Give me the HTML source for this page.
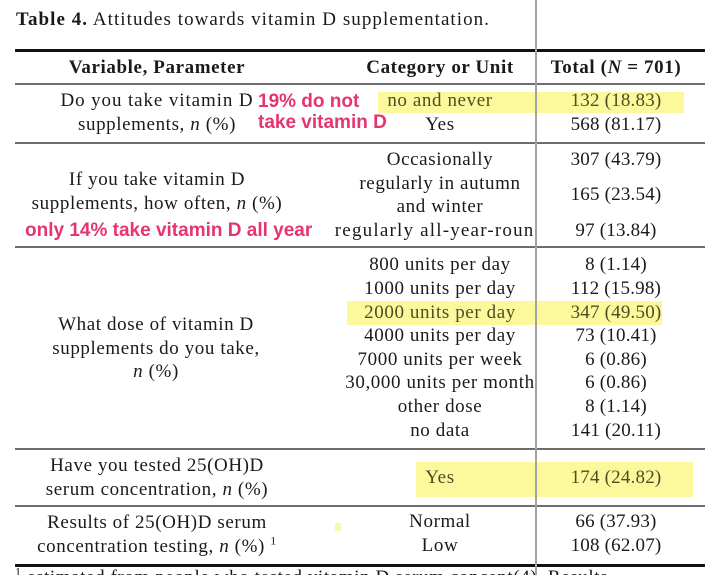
<!DOCTYPE html>
<html><head><meta charset="utf-8">
<style>
html,body{margin:0;padding:0;background:#fff;width:705px;height:575px;overflow:hidden;}
body{position:relative;font-family:"Liberation Serif",serif;color:#1a1a1a;}
.t{position:absolute;width:400px;text-align:center;height:24px;line-height:24px;font-size:19px;white-space:nowrap;letter-spacing:0.6px;}
.n{letter-spacing:0.2px;}
.hl{position:absolute;background:#fbf99c;}
.ln{position:absolute;left:15px;right:0;height:2px;background:#6e6e6e;}
.pk{position:absolute;font-family:"Liberation Sans",sans-serif;font-weight:bold;color:#e6356d;font-size:19px;line-height:20px;white-space:nowrap;}
#c2{position:absolute;left:300px;top:0;width:236px;height:575px;overflow:hidden;}
#c2 .t{width:300px;}
.ol{color:#4e4d25;}
</style></head><body>

<!-- highlights -->
<div class="hl" style="left:378px;top:92px;width:306px;height:21px;"></div>
<div class="hl" style="left:347px;top:301px;width:315px;height:24px;"></div>
<div class="hl" style="left:416px;top:462px;width:277px;height:35px;"></div>
<div class="hl" style="left:335px;top:523px;width:6px;height:8px;background:#fbf7b0;"></div>

<!-- title -->
<div style="position:absolute;left:16px;top:8px;font-size:19px;line-height:24px;white-space:nowrap;letter-spacing:1.05px;"><b>Table 4.</b> Attitudes towards vitamin D supplementation.</div>

<!-- lines -->
<div class="ln" style="top:49px;height:2.5px;background:#111;"></div>
<div class="ln" style="top:83px;"></div>
<div class="ln" style="top:142px;"></div>
<div class="ln" style="top:246px;"></div>
<div class="ln" style="top:448px;"></div>
<div class="ln" style="top:505px;"></div>
<div class="ln" style="top:564px;height:2.5px;background:#111;"></div>

<!-- column 1 -->
<div class="t" style="left:-43px;top:56px;font-weight:bold;">Variable, Parameter</div>
<div class="t" style="left:-43px;top:89px;letter-spacing:0.9px;">Do you take vitamin D</div>
<div class="t" style="left:-43px;top:113px;">supplements, <i>n</i> (%)</div>
<div class="t" style="left:-43px;top:168px;">If you take vitamin D</div>
<div class="t" style="left:-43px;top:192px;">supplements, how often, <i>n</i> (%)</div>
<div class="t" style="left:-44px;top:313px;">What dose of vitamin D</div>
<div class="t" style="left:-44px;top:337px;">supplements do you take,</div>
<div class="t" style="left:-44px;top:360px;"><i>n</i> (%)</div>
<div class="t" style="left:-43px;top:454px;">Have you tested 25(OH)D</div>
<div class="t" style="left:-43px;top:478px;">serum concentration, <i>n</i> (%)</div>
<div class="t" style="left:-43px;top:511px;">Results of 25(OH)D serum</div>
<div class="t" style="left:-43px;top:535px;">concentration testing, <i>n</i> (%) <sup style="font-size:12px;line-height:0;">1</sup></div>

<!-- pink annotations -->
<div class="pk" style="left:258px;top:92px;">19% do not</div>
<div class="pk" style="left:258px;top:113px;">take vitamin D</div>
<div class="pk" style="left:25px;top:221px;">only 14% take vitamin D all year</div>

<!-- column 2 -->
<div id="c2">
<div class="t" style="left:-10px;top:56px;font-weight:bold;">Category or Unit</div>
<div class="t ol" style="left:-10px;top:89px;">no and never</div>
<div class="t" style="left:-10px;top:113px;">Yes</div>
<div class="t" style="left:-10px;top:148px;">Occasionally</div>
<div class="t" style="left:-10px;top:172px;">regularly in autumn</div>
<div class="t" style="left:-10px;top:195px;">and winter</div>
<div class="t" style="left:-10px;top:219px;letter-spacing:1.2px;">regularly all-year-round</div>
<div class="t" style="left:-10px;top:253px;">800 units per day</div>
<div class="t" style="left:-10px;top:277px;">1000 units per day</div>
<div class="t ol" style="left:-10px;top:301px;">2000 units per day</div>
<div class="t" style="left:-10px;top:324px;">4000 units per day</div>
<div class="t" style="left:-10px;top:348px;">7000 units per week</div>
<div class="t" style="left:-10px;top:371px;">30,000 units per month</div>
<div class="t" style="left:-10px;top:395px;">other dose</div>
<div class="t" style="left:-10px;top:419px;">no data</div>
<div class="t ol" style="left:-10px;top:466px;">Yes</div>
<div class="t" style="left:-10px;top:510px;">Normal</div>
<div class="t" style="left:-10px;top:534px;">Low</div>
</div>

<!-- column 3 -->
<div class="t" style="left:416px;top:56px;font-weight:bold;">Total (<i>N</i> = 701)</div>
<div class="t n ol" style="left:416px;top:89px;">132 (18.83)</div>
<div class="t n" style="left:416px;top:113px;">568 (81.17)</div>
<div class="t n" style="left:416px;top:148px;">307 (43.79)</div>
<div class="t n" style="left:416px;top:183px;">165 (23.54)</div>
<div class="t n" style="left:416px;top:219px;">97 (13.84)</div>
<div class="t n" style="left:416px;top:253px;">8 (1.14)</div>
<div class="t n" style="left:416px;top:277px;">112 (15.98)</div>
<div class="t n ol" style="left:416px;top:301px;">347 (49.50)</div>
<div class="t n" style="left:416px;top:324px;">73 (10.41)</div>
<div class="t n" style="left:416px;top:348px;">6 (0.86)</div>
<div class="t n" style="left:416px;top:371px;">6 (0.86)</div>
<div class="t n" style="left:416px;top:395px;">8 (1.14)</div>
<div class="t n" style="left:416px;top:419px;">141 (20.11)</div>
<div class="t n ol" style="left:416px;top:466px;">174 (24.82)</div>
<div class="t n" style="left:416px;top:510px;">66 (37.93)</div>
<div class="t n" style="left:416px;top:534px;">108 (62.07)</div>

<!-- footnote (cut off) -->
<div style="position:absolute;left:15px;top:566px;font-size:19px;line-height:24px;white-space:nowrap;letter-spacing:0.6px;"><sup style="font-size:12px;line-height:0;">1</sup> estimated from people who tested vitamin D serum concent(4). Results</div>

<!-- vertical overlay line -->
<div style="position:absolute;left:535px;top:0;width:2px;height:575px;background:#a3a3a3;"></div>

</body></html>
